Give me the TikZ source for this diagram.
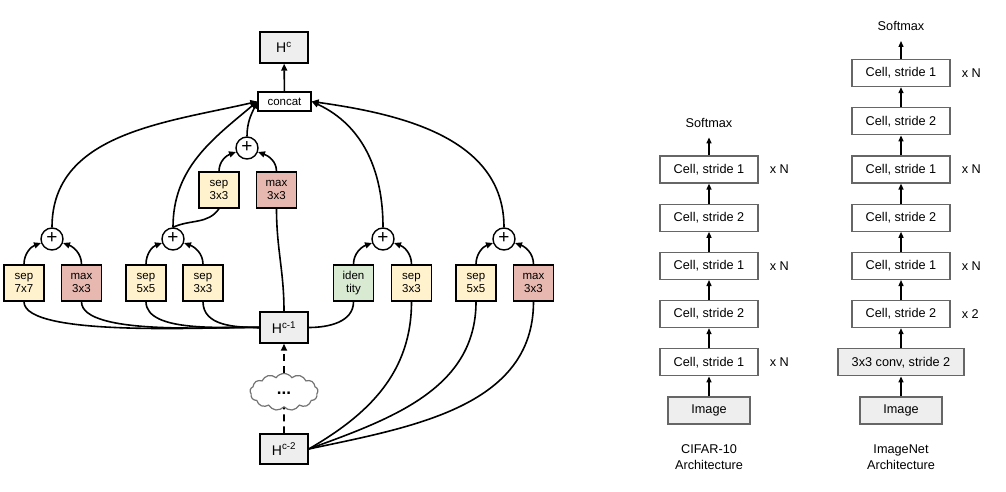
\documentclass[tikz,border=0pt]{standalone}
\usepackage{fontspec}
\setmainfont{Liberation Sans}
\usepackage{xcolor}
\usepackage{tikz}
\usetikzlibrary{shapes,arrows.meta,positioning,calc}

\definecolor{sepfill}{HTML}{FFF2CC}
\definecolor{maxfill}{HTML}{E6B8AF}
\definecolor{idfill}{HTML}{D9EAD3}
\definecolor{hidfill}{HTML}{EEEEEE}

\begin{document}
\begin{tikzpicture}[
    x=1pt, y=1pt,
    op/.style={rectangle, draw, line width=1.4pt, minimum width=40pt, minimum height=36pt, inner sep=0pt, align=center, font=\fontsize{11.5}{13}\selectfont},
    hid/.style={rectangle, draw, line width=1.4pt, fill=hidfill, minimum width=48pt, minimum height=31pt, inner sep=0pt, font=\fontsize{14}{16}\selectfont},
    add/.style={circle, draw, line width=1.4pt, fill=white, minimum size=22pt, inner sep=0pt, font=\fontsize{19}{19}\selectfont},
    link/.style={line width=1.6pt},
    arrow/.style={-{Triangle[length=7pt,width=6pt]}, line width=1.6pt},
    cell/.style={rectangle, draw=black!60, line width=1.2pt, minimum width=98pt, minimum height=27pt, inner sep=0pt, font=\fontsize{12.7}{14}\selectfont},
    uparrow/.style={-{Triangle[length=6pt,width=5pt]}, line width=1.3pt},
    note/.style={font=\fontsize{12.7}{16}\selectfont, inner sep=2pt, align=center}
]
\useasboundingbox (0,0) rectangle (1006,-492);

% Output and concat
\node[hid] (hc) at (284,-47.5) {H\textsuperscript{c}};
\node[rectangle, draw, line width=1.4pt, minimum width=53pt, minimum height=19pt, inner sep=0pt, font=\fontsize{11.5}{13}\selectfont] (concat) at (284.5,-101.5) {concat};

% Upper block
\node[add] (addA) at (247,-148) {\raisebox{1pt}{+}};
\node[op, fill=sepfill] (sepA) at (219,-190) {sep\\3x3};
\node[op, fill=maxfill] (maxA) at (276.5,-190) {max\\3x3};

% Lower blocks
\node[add] (add1) at (52,-239) {\raisebox{1pt}{+}};
\node[add] (add2) at (173,-239) {\raisebox{1pt}{+}};
\node[add] (add3) at (383,-239) {\raisebox{1pt}{+}};
\node[add] (add4) at (504,-239) {\raisebox{1pt}{+}};

\node[op, fill=sepfill] (sep1) at (24,-283) {sep\\7x7};
\node[op, fill=maxfill] (max1) at (81.5,-283) {max\\3x3};
\node[op, fill=sepfill] (sep2) at (146,-283) {sep\\5x5};
\node[op, fill=sepfill] (sep3) at (203,-283) {sep\\3x3};
\node[op, fill=idfill] (iden) at (353.5,-283) {iden\\tity};
\node[op, fill=sepfill] (sep4) at (411.5,-283) {sep\\3x3};
\node[op, fill=sepfill] (sep5) at (476,-283) {sep\\5x5};
\node[op, fill=maxfill] (max2) at (533.5,-283) {max\\3x3};

% Inputs
\node[hid] (hc1) at (284,-327.5) {H\textsuperscript{c-1}};
\node[cloud, draw=black!55, line width=1.2pt, fill=white, cloud puffs=13, cloud puff arc=110, aspect=2, minimum width=68pt, minimum height=37pt, inner sep=0pt, font=\fontsize{17}{17}\selectfont\bfseries] (cloud) at (284,-392) {\raisebox{-5pt}{...}};
\node[hid, minimum height=30pt] (hc2) at (284,-449) {H\textsuperscript{c-2}};

% Arrows into concat
\draw[arrow] (concat) -- (hc);
\draw[arrow] (add1.north) to[out=90,in=193] (concat.west);
\draw[arrow] (add2.north) to[out=90,in=220] (concat.west);
\draw[arrow] (addA.north) to[out=90,in=245] (concat.west);
\draw[arrow] (add3.north) to[out=90,in=-25] (concat.east);
\draw[arrow] (add4.north) to[out=90,in=-8] (concat.east);

% Arrows into adds
\draw[arrow] (sepA.north) to[out=90,in=200] (addA);
\draw[arrow] (maxA.north) to[out=90,in=-20] (addA);
\draw[arrow] (sep1.north) to[out=90,in=200] (add1);
\draw[arrow] (max1.north) to[out=90,in=-20] (add1);
\draw[arrow] (sep2.north) to[out=90,in=200] (add2);
\draw[arrow] (sep3.north) to[out=90,in=-20] (add2);
\draw[arrow] (iden.north) to[out=90,in=200] (add3);
\draw[arrow] (sep4.north) to[out=90,in=-20] (add3);
\draw[arrow] (sep5.north) to[out=90,in=200] (add4);
\draw[arrow] (max2.north) to[out=90,in=-20] (add4);
\draw[link] (add2.north) to[out=25,in=235] (sepA.south);

% Links from inputs
\draw[link] (sep1.south) to[out=-90,in=178,looseness=0.4] (hc1.west);
\draw[link] (max1.south) to[out=-90,in=178,looseness=0.5] (hc1.west);
\draw[link] (sep2.south) to[out=-90,in=178,looseness=0.7] (hc1.west);
\draw[link] (sep3.south) to[out=-90,in=180] (hc1.west);
\draw[link] (maxA.south) to[out=-90,in=90] (hc1.north);
\draw[link] (iden.south) to[out=-90,in=0] (hc1.east);
\draw[link] (sep4.south) to[out=-90,in=30] (hc2.east);
\draw[link] (sep5.south) to[out=-90,in=20] (hc2.east);
\draw[link] (max2.south) to[out=-90,in=12] (hc2.east);
\draw[link, dash pattern=on 7pt off 5pt] (hc2) -- (cloud);
\draw[arrow, dash pattern=on 7pt off 5pt] (cloud) -- (hc1);

% CIFAR-10 column
\node[cell, fill=hidfill, minimum width=82pt] (imgC) at (709,-410.5) {Image};
\node[cell, above=20pt of imgC] (cC1) {Cell, stride 1};
\node[cell, above=20pt of cC1] (cC2) {Cell, stride 2};
\node[cell, above=20pt of cC2] (cC3) {Cell, stride 1};
\node[cell, above=20pt of cC3] (cC4) {Cell, stride 2};
\node[cell, above=20pt of cC4] (cC5) {Cell, stride 1};
\node[note, above=26pt of cC5] (softC) {Softmax};
\node[note, right=9pt of cC1] (nC1) {x N};
\node[note, right=9pt of cC3] (nC3) {x N};
\node[note, right=9pt of cC5] (nC5) {x N};
\node[note] (capC) at (709,-457) {CIFAR-10\\Architecture};

\draw[uparrow] (imgC) -- (cC1);
\draw[uparrow] (cC1) -- (cC2);
\draw[uparrow] (cC2) -- (cC3);
\draw[uparrow] (cC3) -- (cC4);
\draw[uparrow] (cC4) -- (cC5);
\draw[uparrow, shorten >=8pt] (cC5) -- (softC);

% ImageNet column
\node[cell, fill=hidfill, minimum width=82pt] (imgI) at (901,-410.5) {Image};
\node[cell, fill=hidfill, minimum width=126pt, above=20pt of imgI] (conv) {3x3 conv, stride 2};
\node[cell, above=20pt of conv] (cI1) {Cell, stride 2};
\node[cell, above=20pt of cI1] (cI2) {Cell, stride 1};
\node[cell, above=20pt of cI2] (cI3) {Cell, stride 2};
\node[cell, above=20pt of cI3] (cI4) {Cell, stride 1};
\node[cell, above=20pt of cI4] (cI5) {Cell, stride 2};
\node[cell, above=20pt of cI5] (cI6) {Cell, stride 1};
\node[note, above=26pt of cI6] (softI) {Softmax};
\node[note, right=9pt of cI1] (nI1) {x 2};
\node[note, right=9pt of cI2] (nI2) {x N};
\node[note, right=9pt of cI4] (nI4) {x N};
\node[note, right=9pt of cI6] (nI6) {x N};
\node[note] (capI) at (901,-457) {ImageNet\\Architecture};

\draw[uparrow] (imgI) -- (conv);
\draw[uparrow] (conv) -- (cI1);
\draw[uparrow] (cI1) -- (cI2);
\draw[uparrow] (cI2) -- (cI3);
\draw[uparrow] (cI3) -- (cI4);
\draw[uparrow] (cI4) -- (cI5);
\draw[uparrow] (cI5) -- (cI6);
\draw[uparrow, shorten >=8pt] (cI6) -- (softI);

\end{tikzpicture}
\end{document}
